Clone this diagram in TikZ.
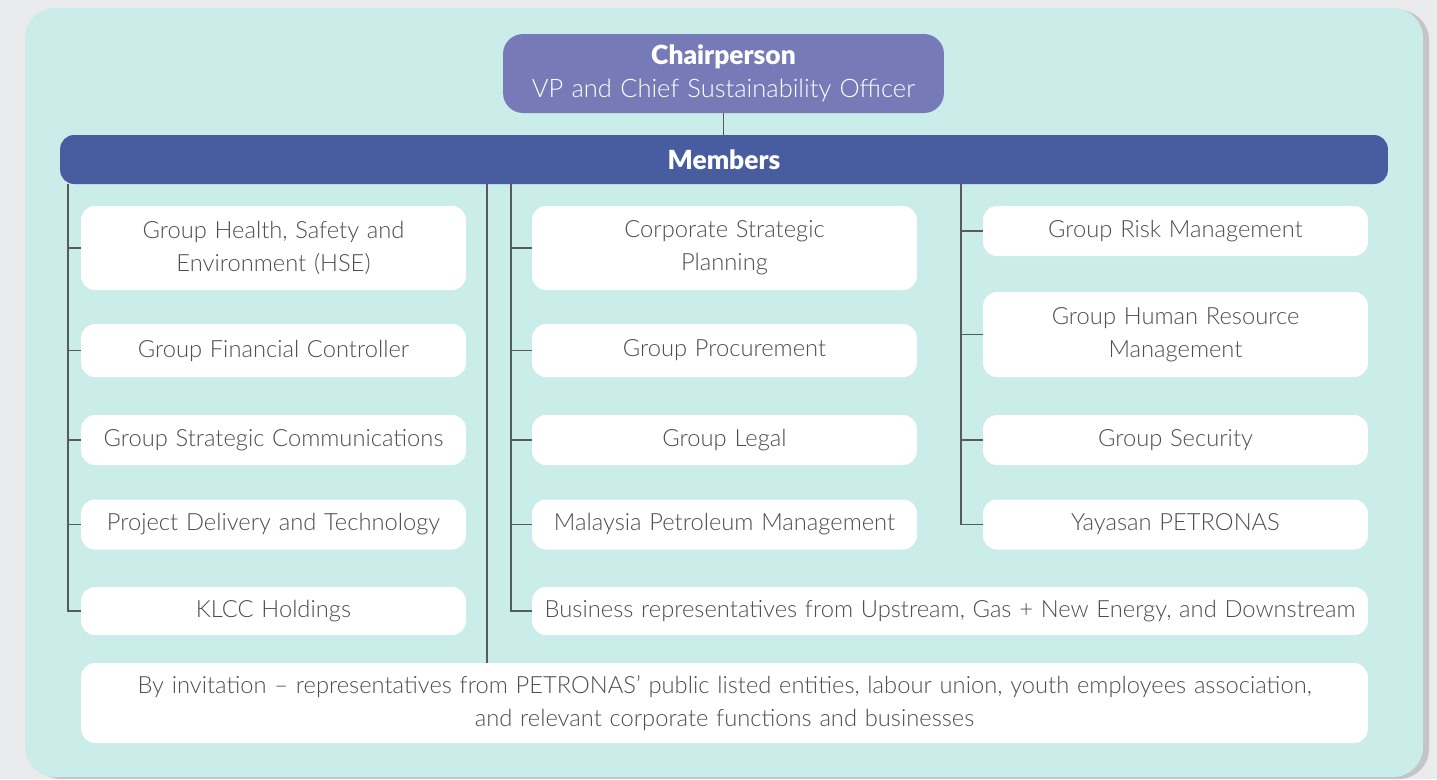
\documentclass[tikz,border=0pt]{standalone}
\usepackage{fontspec}
\setmainfont{Lato Light}[BoldFont=Lato Black, WordSpace=1.2]
\usetikzlibrary{positioning,calc,shadows,backgrounds}

\definecolor{pagegrey}{HTML}{E9EBED}
\definecolor{panelteal}{HTML}{CAEDE9}
\definecolor{chairviolet}{HTML}{767BB8}
\definecolor{memberblue}{HTML}{485CA0}
\definecolor{textgrey}{HTML}{4D4D4D}
\definecolor{linegrey}{HTML}{5A5A5A}

\begin{document}
\begin{tikzpicture}[
    x=0.02cm, y=-0.02cm, % 1 unit = 1 pixel of the layout
    font=\fontsize{13.5}{19}\selectfont,
    box/.style={fill=white, rounded corners=0.28cm, text=textgrey,
        align=center, inner sep=0pt, minimum height=1cm},
    colbox/.style={box, minimum width=7.7cm},
    link/.style={draw=linegrey, line width=0.6pt}
]

    % --- page and panel ---
    \useasboundingbox[fill=pagegrey] (0,0) rectangle (1437,779);
    \fill[panelteal, rounded corners=0.6cm,
          drop shadow={shadow xshift=0.12cm, shadow yshift=-0.04cm, opacity=0.35}]
        (25,8) rectangle (1423,777);

    % --- head of the committee ---
    \node[fill=chairviolet, rounded corners=0.4cm, text=white, align=center,
          minimum width=8.82cm, minimum height=1.58cm, inner sep=0pt] (chair) at (723.5,73.5)
        {{\fontsize{15}{19}\selectfont\bfseries Chairperson}\\
         {\fontsize{14.5}{19}\selectfont VP and Chief Sustainability Officer}};

    \node[fill=memberblue, rounded corners=0.28cm, text=white,
          minimum width=26.56cm, minimum height=0.98cm, inner sep=0pt] (members) at (724,159.5)
        {\fontsize{15}{19}\selectfont\bfseries Members};

    % --- first column ---
    \node[colbox, minimum height=1.68cm] (hse) at (273.5,248) {Group Health, Safety and\\Environment (HSE)};
    \node[colbox, minimum height=1.06cm] (finance) at (273.5,350.5) {Group Financial Controller};
    \node[colbox] (comms) at (273.5,440) {Group Strategic Communications};
    \node[colbox] (delivery) at (273.5,524.5) {Project Delivery and Technology};
    \node[colbox, minimum height=0.96cm] (klcc) at (273.5,611) {KLCC Holdings};

    % --- second column ---
    \node[colbox, minimum height=1.68cm] (planning) at (724.5,248) {Corporate Strategic\\Planning};
    \node[colbox, minimum height=1.06cm] (procure) at (724.5,350.5) {Group Procurement};
    \node[colbox] (legal) at (724.5,440) {Group Legal};
    \node[colbox] (mpm) at (724.5,524.5) {Malaysia Petroleum Management};
    \node[box, minimum width=16.72cm, minimum height=0.96cm] (business) at (950,611)
        {Business representatives from Upstream, Gas + New Energy, and Downstream};

    % --- third column ---
    \node[colbox] (risk) at (1175.5,231) {Group Risk Management};
    \node[colbox, minimum height=1.7cm] (hr) at (1175.5,334.5) {Group Human Resource\\Management};
    \node[colbox] (security) at (1175.5,440) {Group Security};
    \node[colbox] (yayasan) at (1175.5,524.5) {Yayasan PETRONAS};

    % --- by invitation ---
    \node[box, minimum width=25.74cm, minimum height=1.6cm] (invite) at (724.5,703)
        {By invitation – representatives from PETRONAS’ public listed entities, labour union, youth employees association,\\
         and relevant corporate functions and businesses};

    % --- trunks under the members bar ---
    \coordinate (trunkA) at (68,184);
    \coordinate (trunkM) at (487,184);
    \coordinate (trunkB) at (511,184);
    \coordinate (trunkC) at (961,184);

    % --- connectors ---
    \draw[link] (chair.south) -- (chair.south |- members.north);
    \foreach \n in {hse,finance,comms,delivery,klcc}
        \draw[link] (trunkA) |- (\n.west);
    \foreach \n in {planning,procure,legal,mpm,business}
        \draw[link] (trunkB) |- (\n.west);
    \foreach \n in {risk,hr,security,yayasan}
        \draw[link] (trunkC) |- (\n.west);
    \draw[link] (trunkM) -- (trunkM |- invite.north);
\end{tikzpicture}
\end{document}
